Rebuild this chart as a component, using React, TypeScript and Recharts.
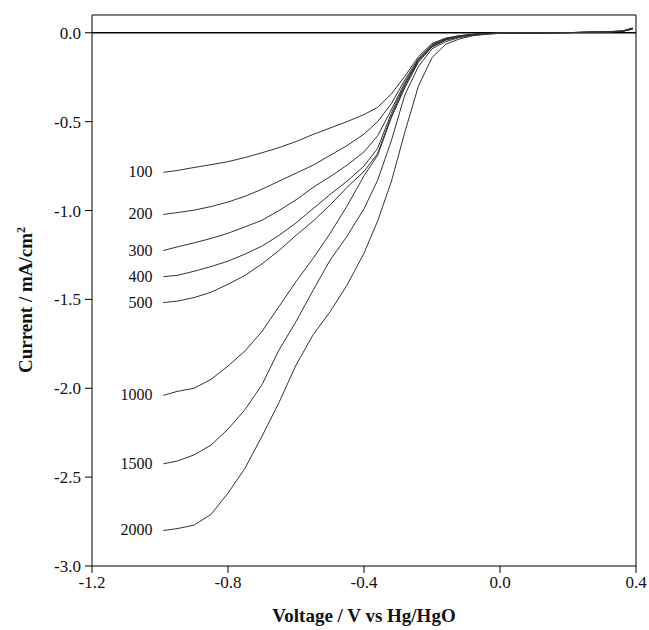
import React from "react";
import { LineChart, Line, XAxis, YAxis, ReferenceLine } from "recharts";

// potential (V vs Hg/HgO)
const voltage = [
  -0.99, -0.95, -0.9, -0.85, -0.8, -0.75, -0.7, -0.65, -0.6, -0.55, -0.5, -0.45, -0.4, -0.36,
  -0.32, -0.28, -0.24, -0.2, -0.16, -0.12, -0.08, -0.04, 0, 0.1, 0.2, 0.3, 0.36, 0.39,
];

// current density (mA/cm2) per rotation rate
const rpm100 = [
  -0.785, -0.775, -0.758, -0.742, -0.725, -0.702, -0.675, -0.646, -0.612, -0.572, -0.536, -0.5, -0.46, -0.42,
  -0.345, -0.245, -0.135, -0.06, -0.03, -0.016, -0.008, -0.004, -0.002, 0, 0.001, 0.004, 0.008, 0.022,
];
const rpm200 = [
  -1.022, -1.012, -0.998, -0.978, -0.952, -0.92, -0.88, -0.835, -0.79, -0.745, -0.69, -0.635, -0.57, -0.5,
  -0.4, -0.265, -0.145, -0.066, -0.033, -0.018, -0.009, -0.004, -0.002, 0, 0.001, 0.004, 0.009, 0.024,
];
const rpm300 = [
  -1.225, -1.205, -1.182, -1.157, -1.128, -1.092, -1.055, -1.0, -0.94, -0.87, -0.81, -0.745, -0.67, -0.58,
  -0.435, -0.28, -0.15, -0.07, -0.036, -0.019, -0.01, -0.005, -0.002, -0.001, 0.001, 0.003, 0.008, 0.02,
];
const rpm400 = [
  -1.372, -1.365, -1.342, -1.315, -1.285, -1.245, -1.2, -1.14, -1.07, -0.99, -0.91, -0.835, -0.75, -0.65,
  -0.455, -0.29, -0.155, -0.074, -0.038, -0.02, -0.01, -0.005, -0.002, -0.001, 0.001, 0.004, 0.009, 0.023,
];
const rpm500 = [
  -1.518, -1.51, -1.49, -1.46, -1.415, -1.365, -1.3, -1.225, -1.14, -1.06, -0.97, -0.87, -0.78, -0.68,
  -0.47, -0.3, -0.16, -0.078, -0.04, -0.021, -0.011, -0.005, -0.002, -0.001, 0.001, 0.004, 0.008, 0.021,
];
const rpm1000 = [
  -2.04, -2.018, -2.0, -1.95, -1.875, -1.79, -1.68, -1.54, -1.4, -1.27, -1.13, -0.975, -0.805, -0.69,
  -0.48, -0.31, -0.165, -0.08, -0.042, -0.022, -0.011, -0.005, -0.002, -0.001, 0.001, 0.004, 0.009, 0.024,
];
const rpm1500 = [
  -2.425, -2.41, -2.375, -2.32, -2.23, -2.12, -1.98, -1.785, -1.625, -1.45, -1.28, -1.145, -0.99, -0.83,
  -0.61, -0.35, -0.19, -0.09, -0.05, -0.027, -0.014, -0.007, -0.003, -0.001, 0.001, 0.004, 0.01, 0.025,
];
const rpm2000 = [
  -2.8, -2.79, -2.77, -2.71, -2.59, -2.45, -2.27, -2.08, -1.87, -1.7, -1.57, -1.42, -1.24, -1.06,
  -0.84, -0.56, -0.3, -0.14, -0.065, -0.035, -0.017, -0.008, -0.003, -0.001, 0.001, 0.005, 0.01, 0.028,
];

const xTicks = [-1.2, -0.8, -0.4, 0, 0.4];
const yTicks = [-3, -2.5, -2, -1.5, -1, -0.5, 0];

const series = [
  { key: "r100", name: "100", values: rpm100 },
  { key: "r200", name: "200", values: rpm200 },
  { key: "r300", name: "300", values: rpm300 },
  { key: "r400", name: "400", values: rpm400 },
  { key: "r500", name: "500", values: rpm500 },
  { key: "r1000", name: "1000", values: rpm1000 },
  { key: "r1500", name: "1500", values: rpm1500 },
  { key: "r2000", name: "2000", values: rpm2000 },
];

const data = voltage.map((v, i) => {
  const row: Record<string, number> = { v };
  series.forEach((s) => {
    row[s.key] = s.values[i];
  });
  return row;
});

const serif = "'Liberation Serif', 'Times New Roman', serif";
const fmt = (n: number) => n.toFixed(1);

// rotation-rate label, drawn only beside the first point of each curve
const curveLabel = (name: string) => (props: any) =>
  props.index === 0 ? (
    <text
      x={props.x - 11}
      y={props.y}
      dy={5}
      textAnchor="end"
      fontFamily={serif}
      fontSize={16}
      fill="#111"
    >
      {name}
    </text>
  ) : (
    <g />
  );

export default function App() {
  return (
    <div style={{ position: "absolute", left: 0, top: 0, background: "#fff" }}>
      <LineChart
        width={649}
        height={630}
        data={data}
        margin={{ top: 15, right: 13, left: 0, bottom: 0 }}
      >
        <XAxis
          dataKey="v"
          type="number"
          domain={[-1.2, 0.4]}
          ticks={xTicks}
          tickFormatter={fmt}
          height={64}
          stroke="#000"
          tickSize={7}
          tickMargin={3}
          tick={{ fill: "#111", fontSize: 17, fontFamily: serif }}
          label={{
            content: () => (
              <text
                x={364}
                y={622}
                textAnchor="middle"
                fontFamily={serif}
                fontWeight="bold"
                fontSize={19}
                fill="#111"
              >
                Voltage / V vs Hg/HgO
              </text>
            ),
          }}
        />
        <YAxis
          type="number"
          domain={[-3, 0.1]}
          ticks={yTicks}
          tickFormatter={fmt}
          width={92}
          stroke="#000"
          tickSize={7}
          tickMargin={4}
          tick={{ fill: "#111", fontSize: 17, fontFamily: serif }}
          label={{
            content: () => (
              <text
                transform="translate(32,300) rotate(-90)"
                textAnchor="middle"
                fontFamily={serif}
                fontWeight="bold"
                fontSize={19}
                fill="#111"
              >
                Current / mA/cm
                <tspan dy={-7} fontSize={12}>
                  2
                </tspan>
              </text>
            ),
          }}
        />
        <ReferenceLine y={0.1} stroke="#000" strokeWidth={1} />
        <ReferenceLine x={0.4} stroke="#000" strokeWidth={1} />
        <ReferenceLine y={0} stroke="#000" strokeWidth={1.5} />
        {series.map((s) => (
          <Line
            key={s.key}
            dataKey={s.key}
            type="linear"
            stroke="#333"
            strokeWidth={1}
            dot={false}
            isAnimationActive={false}
            label={curveLabel(s.name)}
          />
        ))}
      </LineChart>
    </div>
  );
}
